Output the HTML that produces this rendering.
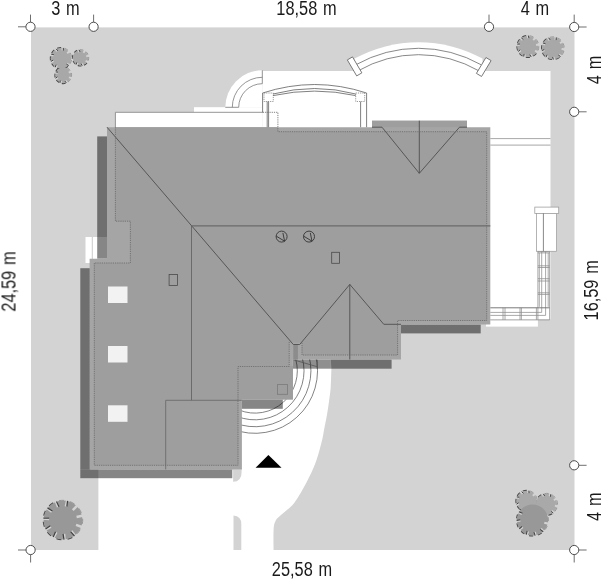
<!DOCTYPE html>
<html><head><meta charset="utf-8">
<style>
html,body{margin:0;padding:0;background:#fff;width:602px;height:579px;overflow:hidden}
svg{display:block}
text{font-family:"Liberation Sans",sans-serif;font-size:19.7px;fill:#1a1a1a;word-spacing:1.5px}
.lbl{will-change:transform}
</style></head>
<body>
<svg width="602" height="579" viewBox="0 0 602 579">
<rect x="31" y="27.4" width="543.5" height="522.6" fill="#d3d3d3"/>
<g fill="#fff">
<rect x="262.3" y="71" width="288.2" height="248.4"/>
<rect x="486" y="319.4" width="51.9" height="7.2"/>
<rect x="115.4" y="112.3" width="147" height="15.2"/>
<rect x="194" y="107.2" width="68.5" height="5.5"/>
<path d="M262.3 70.3 A37 37 0 0 0 225.3 107.3 L262.3 107.3 Z"/>
<path d="M354.6 58.6 A133.2 133.2 0 0 1 482.5 58.6 L482.5 72 L354.6 72 Z"/>
<path d="M242 359.5 L330.8 359.5 L331.3 366 C331.73 366.58 331.58 365.9 331.4 369.5 C331.22 373.1 331.1 382.28 330.7 387.6 C330.3 392.92 329.63 396.8 329 401.4 C328.37 406 327.7 410.6 326.9 415.2 C326.1 419.8 325 424.87 324.2 429 C323.4 433.13 323.47 434.58 322.1 440 C320.73 445.42 318.58 454.47 316 461.5 C313.42 468.53 310.23 475.3 306.6 482.2 C302.97 489.1 298.52 497.38 294.2 502.9 C289.88 508.42 283.82 512.28 280.7 515.3 C277.58 518.32 276.68 518.55 275.5 521 C274.32 523.45 273.92 524.83 273.6 530 C273.28 535.17 273.6 548.33 273.6 552 L98.4 552 L98.4 469.4 L242 469.4 Z"/>
<rect x="85.5" y="237" width="21.5" height="26"/>
</g>
<path d="M92.3 237 V263" stroke="#bdbdbd" stroke-width="0.8"/>
<path d="M295.66 359.14 A42.3 42.3 0 0 1 239.15 410.02 M302.1 357.29 A49 49 0 0 1 236.64 416.23 M308.73 355.39 A55.9 55.9 0 0 1 234.06 422.63 M315.08 353.57 A62.5 62.5 0 0 1 231.59 428.75" stroke="#5a5a5a" stroke-width="0.75" fill="none"/>
<g fill="#000" fill-opacity="0.475">
<rect x="97.2" y="136.4" width="9.8" height="122.3"/>
<rect x="80.3" y="268.2" width="10" height="201.2"/>
<rect x="80.3" y="469.4" width="152" height="8.8"/>
<rect x="401" y="324.5" width="79.7" height="8.9"/>
<rect x="330.8" y="359.5" width="60.8" height="9.2"/>
<rect x="241.8" y="399.4" width="41" height="9.4"/>
</g>
<rect x="292.9" y="359.5" width="37.9" height="9.2" fill="#000" fill-opacity="0.44"/>
<path d="M293.5 359.8 L316.8 366.6 M317.3 359.8 V368.7" stroke="#555" stroke-width="0.8" fill="none"/>
<path d="M233.1 469.4 L241.6 469.4 L241.6 472 Q241.6 481.8 233.1 481.8 Z" fill="#d3d3d3"/>
<path d="M233.5 515.4 Q241.3 516 241.3 524 L241.3 550 L233.5 550 Z" fill="#d3d3d3"/>
<path d="M107 127.2 L372 127.2 L372 120.7 L467 120.7 L467 127.2 L490.3 127.2 L490.3 324.5 L401 324.5 L401 359.5 L292.9 359.5 L292.9 399.4 L241.8 399.4 L241.8 469.4 L89.6 469.4 L89.6 258.7 L107 258.7 Z" fill="#a5a5a5"/>
<path d="M115.4 127.2 L277.9 127.2 L277.9 131.7 L486.7 131.7 L486.7 320.5 L397.6 320.5 L397.6 355 L302 355 L302 342.8 L289.2 342.8 L289.2 366.5 L238 366.5 L238 465.3 L94.3 465.3 L94.3 263 L130.4 263 L130.4 221.2 L115.4 221.2 Z" fill="#9e9e9e"/>
<rect x="372" y="120.7" width="95" height="6.5" fill="#9e9e9e"/>
<rect x="238" y="366" width="54.9" height="33.4" fill="#9e9e9e"/>
<rect x="293.3" y="344.5" width="4.6" height="15" fill="#8c8c8c"/>
<g stroke="#4e4e4e" stroke-width="0.9" fill="none">
<path d="M107 127.2 L191.7 225.9 L293.3 344.5 L299.7 344.5 L349.8 284.4 L383.8 324.3 L401 324.3"/>
<path d="M349.8 284.4 L349.8 359.5"/>
<path d="M372 127.2 L382 127.2 L419.3 173.3 L459.5 127.2 L467 127.2"/>
<path d="M419.3 120.7 L419.3 173.3"/>
</g>
<path d="M191.7 225.9 L490.3 225.9" stroke="#6a6a6a" stroke-width="1.2"/>
<path d="M191.5 225.9 L191.5 400.3" stroke="#5e5e5e" stroke-width="0.8"/>
<path d="M165.7 469.4 L165.7 400.3 L241.8 400.3" stroke="#666" stroke-width="0.8" fill="none"/>
<g stroke="#6a6a6a" stroke-width="0.85" fill="none" stroke-dasharray="1.2 1">
<path d="M115.4 127.2 L115.4 221.2 L130.4 221.2 L130.4 263 L94.3 263 L94.3 465.3 L238 465.3 L238 366.5 L289.2 366.5 L289.2 341.6"/>
<path d="M302 342.8 L302 355 L397.6 355 L397.6 320.5 L486.7 320.5 L486.7 131.7 L277.9 131.7 L277.9 112.3 L263 112.3"/>
</g>
<g stroke="#333" stroke-width="0.9" fill="none">
<circle cx="281.6" cy="236.6" r="5.5"/>
<path d="M276.2 236.1 L284.6 241.2 L282.9 232.9"/>
<circle cx="309" cy="236.6" r="5.5"/>
<path d="M303.6 236.1 L312 241.2 L310.3 232.9"/>
</g>
<g stroke="#4a4a4a" stroke-width="0.8" fill="none">
<rect x="169.1" y="274.5" width="8.3" height="11"/>
<rect x="331.7" y="252.3" width="7.8" height="11"/>
<rect x="277.5" y="384.6" width="10.1" height="9.7" stroke="#7a7a7a"/>
</g>
<g fill="#f2f2f2">
<rect x="108" y="286.5" width="19.5" height="16.5"/>
<rect x="108" y="346" width="19.5" height="16.5"/>
<rect x="108" y="405.3" width="19.5" height="16.5"/>
</g>
<g stroke="#7a7a7a" stroke-width="0.8" fill="none">
<path d="M232.3 107.3 A30 30 0 0 1 262.3 77.3"/>
<path d="M238.7 107.3 A23.6 23.6 0 0 1 262.3 83.7"/>
<path d="M262.3 70.3 L262.3 83.7"/>
<path d="M225.3 107.3 L238.7 107.3"/>
</g>
<path d="M115.4 127.2 V112.3 H263" stroke="#8a8a8a" stroke-width="0.9" fill="none"/>
<g stroke="#606060" stroke-width="0.8" fill="none">
<path d="M262.6 112.3 L262.6 93 Q314.8 76 366.6 93 L366.6 127.2"/>
<path d="M273 94 Q314.8 83 355.7 94"/>
<path d="M273 95.6 Q314.8 86.6 355.7 95.6"/>
<path d="M267.2 101.5 L267.2 127.2 M268.6 101.5 L268.6 127.2"/>
<path d="M360.6 101.5 L360.6 127.2"/>
</g>
<g stroke="#707070" stroke-width="0.7" fill="none" stroke-dasharray="1.2 1">
<rect x="264" y="93" width="9.3" height="8.5"/>
<rect x="355.7" y="93" width="9" height="8.5"/>
</g>
<g stroke="#6a6a6a" stroke-width="0.8" fill="none">
<path d="M356 64.7 A127.2 127.2 0 0 1 481 64.7"/>
<path d="M358 70.9 A120.8 120.8 0 0 1 479 70.9"/>
<rect x="-3" y="-9.25" width="6" height="18.5" transform="translate(354.6 66.4) rotate(-30.36)" fill="#fff"/>
<rect x="-3" y="-9.25" width="6" height="18.5" transform="translate(483.75 67) rotate(31.02)" fill="#fff"/>
</g>
<path d="M490.3 138.6 H550.5 M490.3 145.1 H550.5" stroke="#909090" stroke-width="0.8" fill="none"/>
<g stroke="#a0a0a0" stroke-width="0.8" fill="#fff">
<rect x="534.8" y="207.1" width="23.9" height="6.3"/>
<rect x="536.6" y="213.4" width="20" height="37.9"/>
</g>
<g stroke="#8c8c8c" stroke-width="0.75" fill="none">
<path d="M537.9 251.3 V307.8 M549.6 251.3 V319.9 M539.3 252.9 V306.8 M548.2 252.9 V306.8"/>
<path d="M541.7 251.3 V312.4 H490.3 M545.6 251.3 V315.4 H490.3"/>
<path d="M537.9 251.7 H549.6 M537.9 252.9 H549.6 M537.9 265.8 H549.6 M537.9 267.5 H549.6 M537.9 278.7 H549.6 M537.9 281 H549.6 M537.9 292.8 H549.6 M537.9 294.4 H549.6"/>
<path d="M490.3 319.9 H549.6"/>
<path d="M503 307.8 V319.9 M505 307.8 V319.9 M520 307.8 V319.9 M521.4 307.8 V319.9 M536.4 307.8 V319.9 M537.9 307.8 V319.9"/>
</g>
<path d="M490.3 307.8 H549.6" stroke="#7a7a7a" stroke-width="1"/>
<path d="M543.4 213.4 V251.3" stroke="#6a6a6a" stroke-width="0.8"/>
</g>
<path d="M255.6 467.8 L268.4 455 L281.5 467.8 Z" fill="#000"/>
<path d="M67.95 66.3 A10.6 10.6 0 0 1 64.45 68.32 M61.18 68.9 A10.6 10.6 0 0 1 57.2 68.2 M54.33 66.54 A10.6 10.6 0 0 1 51.73 63.44 M50.59 60.32 A10.6 10.6 0 0 1 50.59 56.28 M51.73 53.16 A10.6 10.6 0 0 1 54.33 50.06 M57.2 48.4 A10.6 10.6 0 0 1 61.18 47.7" stroke="#4a4a4a" stroke-width="1.3" fill="none"/>
<path d="M64.45 48.28 A10.6 10.6 0 0 1 67.95 50.3 M70.09 52.84 A10.6 10.6 0 0 1 71.47 56.64 M71.47 59.96 A10.6 10.6 0 0 1 70.09 63.76" stroke="#909090" stroke-width="0.9" fill="none"/>
<path d="M86.89 62.9 A8.1 8.1 0 0 1 83.89 65.2 M81.45 65.86 A8.1 8.1 0 0 1 77.7 65.36 M75.5 64.09 A8.1 8.1 0 0 1 73.2 61.09 M72.54 58.65 A8.1 8.1 0 0 1 73.04 54.9 M74.31 52.7 A8.1 8.1 0 0 1 77.31 50.4" stroke="#4a4a4a" stroke-width="1.3" fill="none"/>
<path d="M85.7 51.51 A8.1 8.1 0 0 1 88 54.51 M88.66 56.95 A8.1 8.1 0 0 1 88.16 60.7 M79.75 49.74 A8.1 8.1 0 0 1 83.5 50.24" stroke="#909090" stroke-width="0.9" fill="none"/>
<path d="M65.59 83.18 A8.3 8.3 0 0 1 61.72 83.35 M59.28 82.46 A8.3 8.3 0 0 1 56.42 79.84 M55.32 77.49 A8.3 8.3 0 0 1 55.15 73.62 M56.04 71.18 A8.3 8.3 0 0 1 58.66 68.32" stroke="#4a4a4a" stroke-width="1.3" fill="none"/>
<path d="M67.32 67.94 A8.3 8.3 0 0 1 70.18 70.56 M71.28 72.91 A8.3 8.3 0 0 1 71.45 76.78 M70.56 79.22 A8.3 8.3 0 0 1 67.94 82.08 M61.01 67.22 A8.3 8.3 0 0 1 64.88 67.05" stroke="#909090" stroke-width="0.9" fill="none"/>
<circle cx="61" cy="58.3" r="10.3" fill="#a8a8a8"/>
<circle cx="80.6" cy="57.8" r="7.8" fill="#a8a8a8"/>
<circle cx="63.3" cy="75.2" r="8" fill="#a8a8a8"/>
<path d="M62.39 50.42 L63.05 46.68 M67.13 53.16 L70.04 50.72 M67.13 63.44 L70.04 65.88 M57 65.23 L55.1 68.52 M53.48 61.04 L49.91 62.34 M53.48 55.56 L49.91 54.26 M57 51.37 L55.1 48.08" stroke="#d3d3d3" stroke-width="1.91" fill="none"/>
<path d="M63.37 50.6 L63.33 47.95 M66.49 64.21 L68.8 65.5 M56.13 64.73 L55.27 67.23 M53.14 60.1 L50.87 61.46 M53.82 54.62 L51.21 54.2 M57.87 50.87 L56.13 48.87" stroke="#404040" stroke-width="0.98" fill="none"/>
<path d="M83.5 52.78 L85.25 49.75 M86.2 56.3 L89.58 55.39 M85.62 60.7 L88.65 62.45 M82.1 63.4 L83.01 66.78 M77.7 62.82 L75.95 65.85 M79.1 52.2 L78.19 48.82" stroke="#d3d3d3" stroke-width="1.86" fill="none"/>
<path d="M81.14 63.66 L82.21 65.75 M76.83 62.32 L76.12 64.56 M80.06 51.94 L78.99 49.85" stroke="#404040" stroke-width="0.96" fill="none"/>
<path d="M68.74 72.66 L71.91 71.19 M68.94 77.25 L72.23 78.45 M65.84 80.64 L67.31 83.81 M61.25 80.84 L60.05 84.13 M57.86 77.74 L54.69 79.21 M57.66 73.15 L54.37 71.95" stroke="#d3d3d3" stroke-width="1.86" fill="none"/>
<path d="M64.93 81.06 L66.35 82.93 M60.31 80.5 L59.99 82.83 M57.44 76.83 L55.57 78.25 M58 72.21 L55.67 71.89" stroke="#404040" stroke-width="0.96" fill="none"/>
<path d="M536.37 53.36 A10.9 10.9 0 0 1 533.18 56.03 M529.98 57.2 A10.9 10.9 0 0 1 525.82 57.2 M522.62 56.03 A10.9 10.9 0 0 1 519.43 53.36 M517.72 50.41 A10.9 10.9 0 0 1 517 46.31 M517.59 42.95 A10.9 10.9 0 0 1 519.67 39.35 M522.29 37.16 A10.9 10.9 0 0 1 526.19 35.73" stroke="#4a4a4a" stroke-width="1.3" fill="none"/>
<path d="M529.61 35.73 A10.9 10.9 0 0 1 533.51 37.16 M536.13 39.35 A10.9 10.9 0 0 1 538.21 42.95 M538.8 46.31 A10.9 10.9 0 0 1 538.08 50.41" stroke="#909090" stroke-width="0.9" fill="none"/>
<path d="M559.54 57.34 A11.3 11.3 0 0 1 555.63 59.16 M552.11 59.47 A11.3 11.3 0 0 1 547.95 58.36 M545.05 56.33 A11.3 11.3 0 0 1 542.58 52.8 M541.66 49.38 A11.3 11.3 0 0 1 542.04 45.09 M543.53 41.88 A11.3 11.3 0 0 1 546.58 38.83" stroke="#4a4a4a" stroke-width="1.3" fill="none"/>
<path d="M557.5 37.88 A11.3 11.3 0 0 1 561.03 40.35 M563.06 43.25 A11.3 11.3 0 0 1 564.17 47.41 M563.86 50.93 A11.3 11.3 0 0 1 562.04 54.84 M549.79 37.34 A11.3 11.3 0 0 1 554.08 36.96" stroke="#909090" stroke-width="0.9" fill="none"/>
<circle cx="527.9" cy="46.5" r="10.6" fill="#a8a8a8"/>
<circle cx="552.9" cy="48.2" r="11" fill="#a8a8a8"/>
<path d="M527.9 38.2 L527.9 34.4 M533.24 40.14 L535.68 37.23 M536.07 45.06 L539.82 44.4 M535.09 50.65 L538.38 52.55 M530.74 54.3 L532.04 57.87 M525.06 54.3 L523.76 57.87 M520.71 50.65 L517.42 52.55 M519.73 45.06 L515.98 44.4 M522.56 40.14 L520.12 37.23" stroke="#d3d3d3" stroke-width="1.91" fill="none"/>
<path d="M528.9 38.2 L528.4 35.6 M529.8 54.64 L531.16 56.91 M524.12 53.96 L523.7 56.57 M520.21 49.78 L518.21 51.52 M519.9 44.07 L517.25 44.11 M523.33 39.5 L521.28 37.83" stroke="#404040" stroke-width="0.98" fill="none"/>
<path d="M555.15 39.8 L556.14 36.13 M560.03 43.21 L563.14 41.03 M561.57 48.96 L565.35 49.29 M559.05 54.35 L561.74 57.04 M553.66 56.87 L553.99 60.65 M547.91 55.33 L545.73 58.44 M544.5 50.45 L540.83 51.44 M545.02 44.52 L541.57 42.92 M549.22 40.32 L547.62 36.87" stroke="#d3d3d3" stroke-width="1.91" fill="none"/>
<path d="M556.12 40.06 L556.31 37.41 M558.34 55.06 L560.54 56.54 M552.66 56.95 L553.39 59.5 M547.09 54.75 L546.01 57.17 M544.24 49.49 L541.86 50.64 M545.44 43.62 L542.87 42.97 M550.13 39.89 L548.58 37.75" stroke="#404040" stroke-width="0.98" fill="none"/>
<path d="M533.55 509 A10.6 10.6 0 0 1 530.05 511.02 M526.78 511.6 A10.6 10.6 0 0 1 522.8 510.9 M519.93 509.24 A10.6 10.6 0 0 1 517.33 506.14 M516.19 503.02 A10.6 10.6 0 0 1 516.19 498.98 M517.33 495.86 A10.6 10.6 0 0 1 519.93 492.76 M522.8 491.1 A10.6 10.6 0 0 1 526.78 490.4" stroke="#4a4a4a" stroke-width="1.3" fill="none"/>
<path d="M530.05 490.98 A10.6 10.6 0 0 1 533.55 493 M535.69 495.54 A10.6 10.6 0 0 1 537.07 499.34 M537.07 502.66 A10.6 10.6 0 0 1 535.69 506.46" stroke="#909090" stroke-width="0.9" fill="none"/>
<path d="M552.21 513.64 A10.9 10.9 0 0 1 548.31 515.07 M544.89 515.07 A10.9 10.9 0 0 1 540.99 513.64 M538.37 511.45 A10.9 10.9 0 0 1 536.29 507.85 M535.7 504.49 A10.9 10.9 0 0 1 536.42 500.39 M538.13 497.44 A10.9 10.9 0 0 1 541.32 494.77" stroke="#4a4a4a" stroke-width="1.3" fill="none"/>
<path d="M551.88 494.77 A10.9 10.9 0 0 1 555.07 497.44 M556.78 500.39 A10.9 10.9 0 0 1 557.5 504.49 M556.91 507.85 A10.9 10.9 0 0 1 554.83 511.45 M544.52 493.6 A10.9 10.9 0 0 1 548.68 493.6" stroke="#909090" stroke-width="0.9" fill="none"/>
<path d="M541.64 533.01 A15.9 15.9 0 0 1 538.03 534.91 M533.16 535.89 A15.9 15.9 0 0 1 529.1 535.53 M524.46 533.72 A15.9 15.9 0 0 1 521.24 531.23 M518.32 527.2 A15.9 15.9 0 0 1 516.96 523.36 M516.68 518.39 A15.9 15.9 0 0 1 517.61 514.42 M520.06 510.09 A15.9 15.9 0 0 1 522.99 507.26 M527.4 504.94 A15.9 15.9 0 0 1 531.39 504.14" stroke="#4a4a4a" stroke-width="1.3" fill="none"/>
<path d="M536.35 504.57 A15.9 15.9 0 0 1 540.14 506.06 M544.08 509.1 A15.9 15.9 0 0 1 546.47 512.4 M548.13 517.09 A15.9 15.9 0 0 1 548.36 521.16 M547.22 526 A15.9 15.9 0 0 1 545.21 529.55" stroke="#909090" stroke-width="0.9" fill="none"/>
<circle cx="526.6" cy="501" r="10.3" fill="#a9a9a9"/>
<circle cx="546.6" cy="504.3" r="10.6" fill="#a9a9a9"/>
<circle cx="532.5" cy="520" r="15.6" fill="#989898"/>
<path d="M528.01 493.02 L528.65 489.38 M532.8 495.79 L535.64 493.42 M518.99 503.77 L515.51 505.04 M518.99 498.23 L515.51 496.96 M522.55 493.99 L520.7 490.78" stroke="#d3d3d3" stroke-width="1.9" fill="none"/>
<path d="M528.99 493.2 L528.93 490.65 M518.65 502.83 L516.47 504.16 M519.33 497.29 L516.81 496.9 M523.42 493.49 L521.73 491.57" stroke="#404040" stroke-width="0.98" fill="none"/>
<path d="M549.47 496.41 L550.74 492.93 M553.87 500.1 L557.08 498.25 M554.87 505.76 L558.52 506.4 M552 510.73 L554.38 513.57 M543.73 496.41 L542.46 492.93" stroke="#d3d3d3" stroke-width="1.9" fill="none"/>
<path d="M550.41 496.75 L550.8 494.23 M551.23 511.38 L553.22 512.97 M544.67 496.06 L543.34 493.89" stroke="#404040" stroke-width="0.98" fill="none"/>
<path d="M544.28 522.76 L549.15 523.9 M540.92 528.69 L544.4 532.28 M534.88 531.86 L535.87 536.76 M528.09 531.27 L526.27 535.93 M522.7 527.1 L518.65 530.03 M520.42 520.67 L515.43 520.95 M521.97 514.03 L517.62 511.57" stroke="#d3d3d3" stroke-width="2.13" fill="none"/>
<path d="M540.2 529.39 L543.2 531.77 M533.9 532.06 L535.14 535.69 M527.16 530.9 L526.24 534.63 M522.11 526.29 L519.33 528.92 M520.36 519.67 L516.6 520.38 M522.47 513.16 L518.91 511.72" stroke="#404040" stroke-width="1.08" fill="none"/>
<path d="M72.28 537.38 A19.7 19.7 0 0 1 67.55 539.17 M61.41 539.64 A19.7 19.7 0 0 1 56.47 538.59 M51.04 535.66 A19.7 19.7 0 0 1 47.46 532.1 M44.48 526.71 A19.7 19.7 0 0 1 43.38 521.78 M43.79 515.63 A19.7 19.7 0 0 1 45.53 510.89 M49.2 505.94 A19.7 19.7 0 0 1 53.23 502.89" stroke="#4a4a4a" stroke-width="1.3" fill="none"/>
<path d="M70.06 501.61 A19.7 19.7 0 0 1 74.5 504.01 M78.88 508.34 A19.7 19.7 0 0 1 81.32 512.77 M82.66 518.78 A19.7 19.7 0 0 1 82.33 523.82 M80.2 529.61 A19.7 19.7 0 0 1 77.19 533.66 M59 500.71 A19.7 19.7 0 0 1 64.03 500.33" stroke="#909090" stroke-width="0.9" fill="none"/>
<circle cx="63" cy="520" r="19.4" fill="#989898"/>
<path d="M65.89 506.4 L67.35 499.56 M72.78 510.12 L77.71 505.15 M76.57 516.98 L83.4 515.46 M76.05 524.8 L82.62 527.21 M71.38 531.09 L75.6 536.67 M64.06 533.86 L64.59 540.84 M56.4 532.23 L53.07 538.39 M50.83 526.72 L44.7 530.1 M49.13 519.07 L42.15 518.61 M51.83 511.72 L46.21 507.55 M58.08 507 L55.6 500.45" stroke="#d3d3d3" stroke-width="2.49" fill="none"/>
<path d="M66.87 506.61 L67.58 500.83 M70.59 531.69 L74.48 536.02 M63.06 533.94 L64 539.68 M55.52 531.76 L53.2 537.1 M50.35 525.84 L45.51 529.09 M49.2 518.08 L43.38 518.19 M52.43 510.92 L47.47 507.87 M59.02 506.65 L56.5 501.4" stroke="#404040" stroke-width="1.24" fill="none"/>
<path d="M30.5 14.6 V22.2 M18 26.8 H25.9 M93.6 14.6 V22.2 M489 14.6 V22.2 M574.2 14.6 V22.4 M578.8 27 H586.6 M578.8 111.8 H586.6 M578.8 465.3 H586.6 M578.8 550 H586.6 M574.2 554.6 V562.5 M18 550 H26 M30.6 554.6 V562.5" stroke="#555" stroke-width="0.85" fill="none"/>
<g stroke="#3a3a3a" stroke-width="0.9" fill="#fff"><circle cx="30.5" cy="26.8" r="4.6"/><circle cx="93.6" cy="26.8" r="4.6"/><circle cx="489" cy="26.8" r="4.6"/><circle cx="574.2" cy="27" r="4.6"/><circle cx="574.2" cy="111.8" r="4.6"/><circle cx="574.2" cy="465.3" r="4.6"/><circle cx="574.2" cy="550" r="4.6"/><circle cx="30.6" cy="550" r="4.6"/></g>
<g class="lbl">
<text x="65.5" y="14.6" text-anchor="middle" transform="translate(65.5 0) scale(0.83 1) translate(-65.5 0)">3 m</text>
<text x="306.5" y="14.6" text-anchor="middle" transform="translate(306.5 0) scale(0.83 1) translate(-306.5 0)">18,58 m</text>
<text x="535" y="14.9" text-anchor="middle" transform="translate(535 0) scale(0.83 1) translate(-535 0)">4 m</text>
<text x="302" y="575.6" text-anchor="middle" transform="translate(302 0) scale(0.83 1) translate(-302 0)">25,58 m</text>
<text transform="translate(15.5 281.5) rotate(-90) scale(0.83 1)" text-anchor="middle">24,59 m</text>
<text transform="translate(597.6 290.3) rotate(-90) scale(0.83 1)" text-anchor="middle">16,59 m</text>
<text transform="translate(600.5 70) rotate(-90) scale(0.83 1)" text-anchor="middle">4 m</text>
<text transform="translate(601.2 506.7) rotate(-90) scale(0.83 1)" text-anchor="middle">4 m</text>
</g>
</svg>
</body></html>
